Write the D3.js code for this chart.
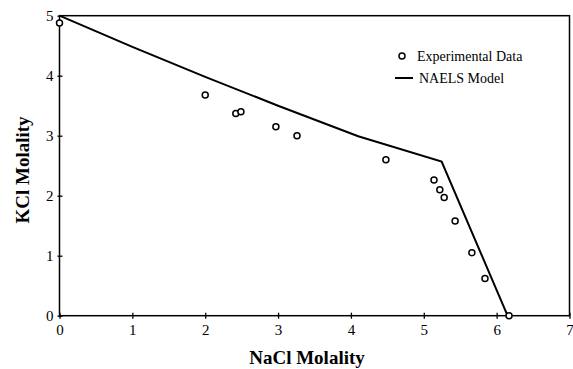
<!DOCTYPE html>
<html>
<head>
<meta charset="utf-8">
<script src="https://cdn.jsdelivr.net/npm/d3@7"></script>
<style>
html,body{margin:0;padding:0;background:#fff;}
svg{display:block;}
</style>
</head>
<body>
<svg id="chart" width="573" height="369"></svg>
<script>
// Data
const expNaCl = [0.0, 2.0, 2.42, 2.49, 2.97, 3.26, 4.48, 5.14, 5.22, 5.28, 5.43, 5.66, 5.84, 6.17];
const expKCl  = [4.88, 3.68, 3.37, 3.40, 3.15, 3.00, 2.60, 2.26, 2.10, 1.97, 1.58, 1.05, 0.62, 0.0];
const modelNaCl = [0.0, 1.0, 2.0, 3.0, 4.1, 5.245, 6.15];
const modelKCl  = [5.0, 4.48, 3.98, 3.50, 2.99, 2.57, 0.0];
const xTicks = [0, 1, 2, 3, 4, 5, 6, 7];
const yTicks = [0, 1, 2, 3, 4, 5];
const xTitle = "NaCl Molality";
const yTitle = "KCl Molality";
const legendLabels = ["Experimental Data", "NAELS Model"];

const svg = d3.select("#chart");
const pL = 59.5, pR = 569.5, pT = 15.7, pB = 315.7;
const x = d3.scaleLinear().domain([0, 7]).range([pL, pR]);
const y = d3.scaleLinear().domain([0, 5]).range([pB, pT]);
const font = "'Liberation Serif','Times New Roman',serif";

// frame
svg.append("rect").attr("x", pL).attr("y", pT)
  .attr("width", pR - pL).attr("height", pB - pT)
  .attr("fill", "none").attr("stroke", "#000").attr("stroke-width", 1.5);

// axes
const xAxis = svg.append("g").attr("transform", `translate(0,${pB})`)
  .call(d3.axisBottom(x).tickValues(xTicks).tickFormat(d3.format("d")).tickSizeInner(3).tickSizeOuter(0).tickPadding(6));
xAxis.select(".domain").remove();
xAxis.selectAll(".tick line").attr("y1", -3).attr("stroke-width", 1.3);
xAxis.selectAll("text").attr("font-family", font).attr("font-size", 15).attr("fill", "#000");

const yAxis = svg.append("g").attr("transform", `translate(${pL},0)`)
  .call(d3.axisLeft(y).tickValues(yTicks).tickFormat(d3.format("d")).tickSizeInner(2).tickSizeOuter(0).tickPadding(4));
yAxis.select(".domain").remove();
yAxis.selectAll(".tick line").attr("x1", 3).attr("stroke-width", 1.3);
yAxis.selectAll("text").attr("font-family", font).attr("font-size", 15).attr("fill", "#000");

// model line
const line = d3.line().x(d => x(d[0])).y(d => y(d[1]));
svg.append("path").datum(modelNaCl.map((v, i) => [v, modelKCl[i]]))
  .attr("d", line).attr("fill", "none").attr("stroke", "#000").attr("stroke-width", 2);

// experimental points
svg.append("g").selectAll("circle").data(expNaCl.map((v, i) => [v, expKCl[i]]))
  .join("circle").attr("cx", d => x(d[0])).attr("cy", d => y(d[1])).attr("r", 3)
  .attr("fill", "#fff").attr("stroke", "#000").attr("stroke-width", 1.5);

// titles
svg.append("text").attr("x", 307).attr("y", 364).attr("text-anchor", "middle")
  .attr("font-family", font).attr("font-weight", "bold").attr("font-size", 19).text(xTitle);
svg.append("text").attr("transform", "translate(29,170) rotate(-90)").attr("text-anchor", "middle")
  .attr("font-family", font).attr("font-weight", "bold").attr("font-size", 19).text(yTitle);

// legend
const lg = svg.append("g");
lg.append("circle").attr("cx", 402).attr("cy", 56).attr("r", 3)
  .attr("fill", "#fff").attr("stroke", "#000").attr("stroke-width", 1.5);
lg.append("text").attr("x", 417).attr("y", 61).attr("font-family", font).attr("font-size", 14).text(legendLabels[0]);
lg.append("line").attr("x1", 395).attr("x2", 413).attr("y1", 78).attr("y2", 78)
  .attr("stroke", "#000").attr("stroke-width", 2);
lg.append("text").attr("x", 419).attr("y", 83).attr("font-family", font).attr("font-size", 14).text(legendLabels[1]);
</script>
</body>
</html>
